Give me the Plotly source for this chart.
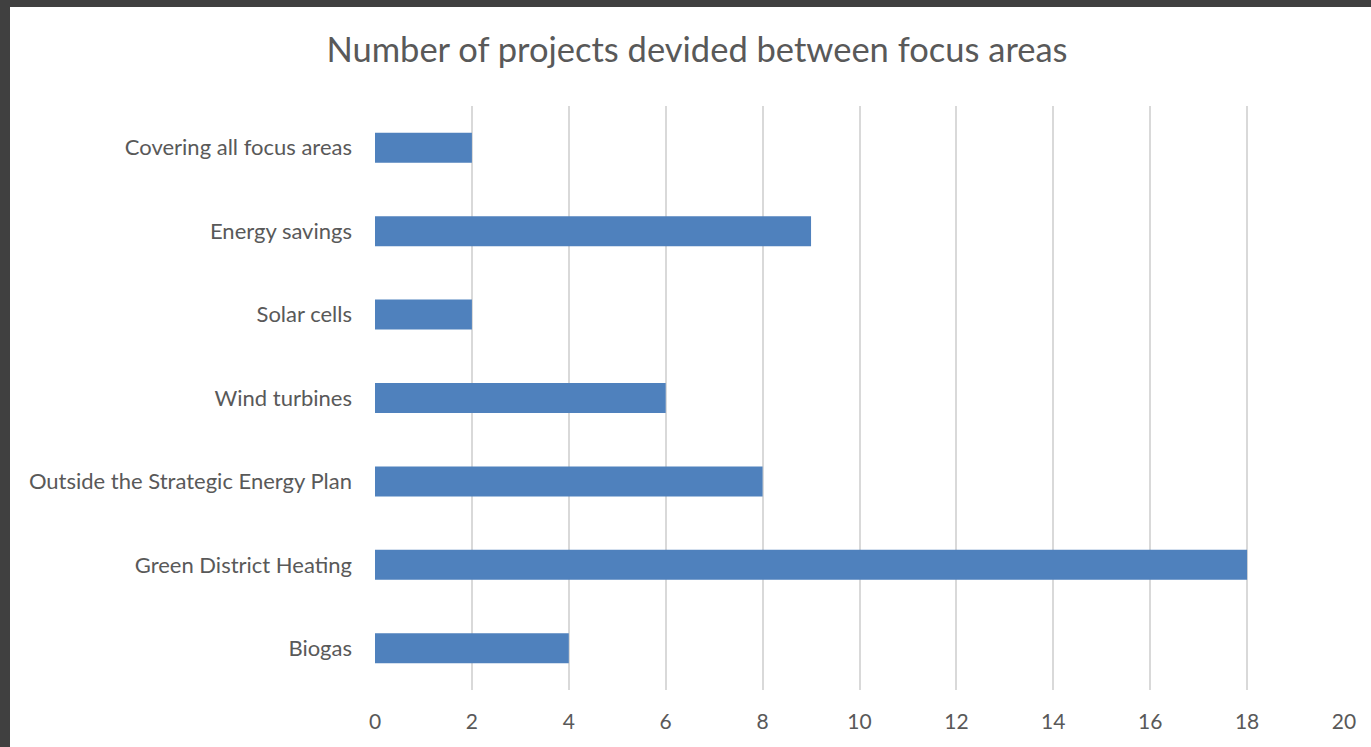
import plotly.graph_objects as go

categories = ["Biogas", "Green District Heating", "Outside the Strategic Energy Plan",
              "Wind turbines", "Solar cells", "Energy savings", "Covering all focus areas"]
values = [4, 18, 8, 6, 2, 9, 2]
x_ticks = [0, 2, 4, 6, 8, 10, 12, 14, 16, 18, 20]

W, H = 1371, 747
L, R, T, B = 375, 27, 106, 57
pw, ph = W - L - R, H - T - B

FONT = "Lato"
TXT = "#595959"

fig = go.Figure(go.Bar(
    y=categories, x=values, orientation="h",
    marker=dict(color="#4F81BD", line=dict(width=0)),
    width=0.36,
))

fig.update_layout(
    width=W, height=H,
    margin=dict(l=L, r=R, t=T, b=B, autoexpand=False),
    paper_bgcolor="white", plot_bgcolor="white",
    showlegend=False,
    title=dict(text="Number of projects devided between focus areas",
               x=697 / W, xanchor="center", xref="container",
               y=1 - 50 / H, yanchor="middle", yref="container",
               font=dict(family=FONT, size=34.5, color=TXT)),
    font=dict(family=FONT, color=TXT),
    xaxis=dict(range=[0, 20], tickvals=x_ticks, showgrid=True,
               gridcolor="#D9D9D9", gridwidth=2, zeroline=False,
               showline=False, ticks="", ticklabelstandoff=17,
               tickfont=dict(family=FONT, size=21, color=TXT), fixedrange=True),
    yaxis=dict(range=[-0.5, 6.5], showgrid=False, zeroline=False,
               showline=False, ticks="", ticklabelstandoff=22,
               tickfont=dict(family=FONT, size=22, color=TXT), fixedrange=True),
    shapes=[
        dict(type="rect", xref="paper", yref="paper",
             x0=-L / pw, x1=(W - L) / pw,
             y0=1 + (T - 7) / ph, y1=1 + T / ph,
             fillcolor="#404040", line=dict(width=0), layer="above"),
        dict(type="rect", xref="paper", yref="paper",
             x0=-L / pw, x1=(10 - L) / pw,
             y0=-B / ph, y1=1 + T / ph,
             fillcolor="#404040", line=dict(width=0), layer="above"),
    ],
)

fig.write_html("out.html", config={"displayModeBar": False},
               post_script="document.body.style.margin='0';document.body.style.overflow='hidden';")
